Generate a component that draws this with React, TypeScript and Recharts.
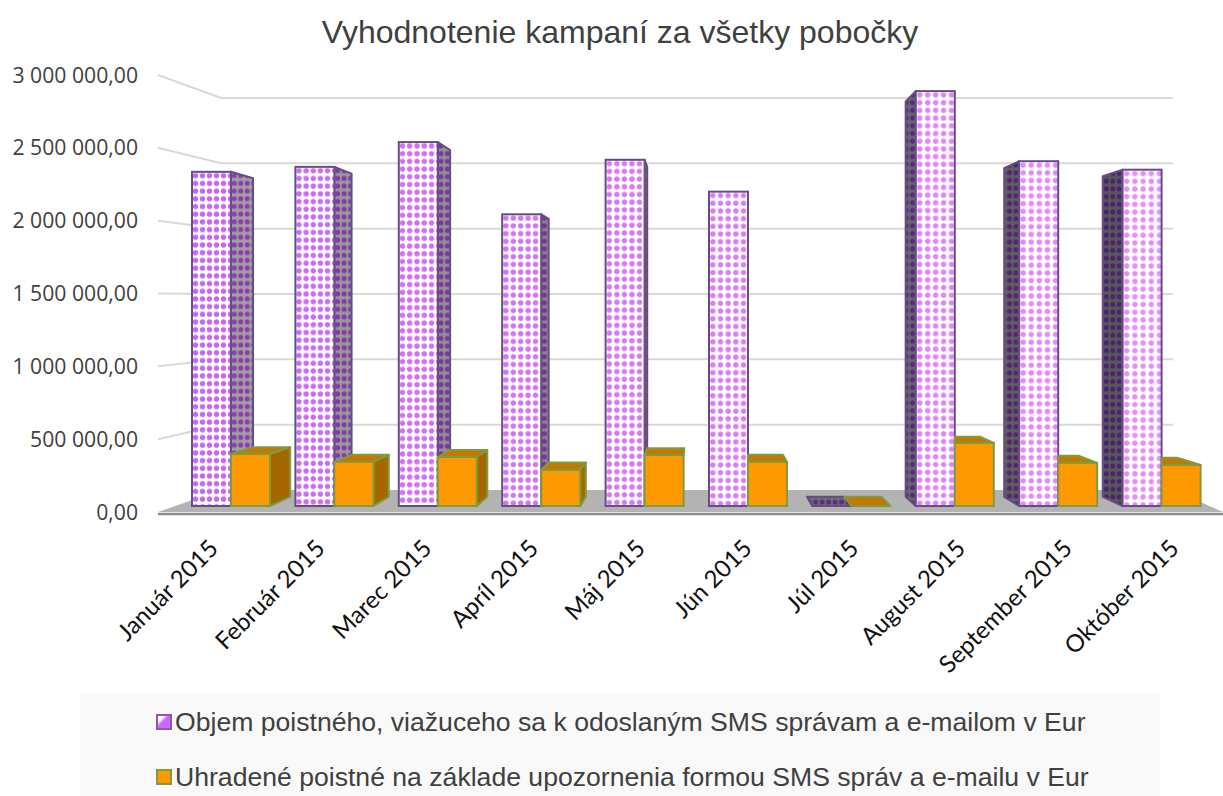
import React from 'react';
import { ComposedChart, Bar, Line, XAxis, YAxis, Legend, CartesianGrid } from 'recharts';

const months = ['Január 2015', 'Február 2015', 'Marec 2015', 'Apríl 2015', 'Máj 2015', 'Jún 2015', 'Júl 2015', 'August 2015', 'September 2015', 'Október 2015'];
const premiumSent = [2360000, 2395000, 2570000, 2060000, 2445000, 2220000, 0, 2930000, 2435000, 2375000];
const premiumPaid = [367000, 311000, 346000, 254000, 360000, 311000, 0, 445000, 304000, 290000];
const axisTicks = [0, 500000, 1000000, 1500000, 2000000, 2500000, 3000000];
const seriesNames = [
  'Objem poistného, viažuceho sa k odoslaným SMS správam a e-mailom v Eur',
  'Uhradené poistné na základe upozornenia formou SMS správ a e-mailu v Eur',
];

const data = months.map((month, i) => ({ month, sent: premiumSent[i], paid: premiumPaid[i] }));

// the 3D look: every corner is pulled towards one vanishing point
const VP_X = 700;
const VP_Y = 310;
const DEPTH = 0.047;
const backX = (x: number) => x + (VP_X - x) * DEPTH;
const backY = (y: number) => y + (VP_Y - y) * DEPTH;

const mix = (a: number[], b: number[], t: number) =>
  `rgb(${a.map((v, i) => Math.round(v + (b[i] - v) * t)).join(',')})`;

const poly = (pts: number[][]) => pts.map((p) => p.join(',')).join(' ');

const Box3D = (props: any) => {
  const { x, y, width, height, index, kind } = props;
  const l = x;
  const r = x + width;
  const t = y;
  const b = y + height;
  const isSent = kind === 'sent';
  const stroke = isSent ? '#674c85' : '#7f9a3f';
  const k = (l - 192) / 930;
  const dot = mix([199, 102, 245], [233, 138, 255], k);
  const frontId = `front-${index}`;
  const sideId = `side-${index}`;
  const sideFill = isSent ? `url(#${sideId})` : '#a56700';
  const topFill = isSent ? `url(#${sideId})` : '#c07a00';
  const rightSide = backX(r) > r + 1;
  // an orange box has the purple one on its left, which hides that corner
  const hidden = !isSent && premiumSent[index] > 0;
  const leftSide = !hidden && isSent && backX(l) < l - 1;
  const topLeft = hidden ? Math.max(backX(l), l) : backX(l);
  return (
    <g>
      {isSent && (
        <defs>
          <pattern id={frontId} patternUnits="userSpaceOnUse" x={l} y={t} width={7 + k * 1.2} height={7.7}>
            <rect width="10" height="10" fill="#ffffff" />
            <circle cx={3.5 + k * 0.6} cy={3.8} r={2.7} fill={dot} />
          </pattern>
          <pattern id={sideId} patternUnits="userSpaceOnUse" x={l} y={t} width={6.5} height={7.7}>
            <rect width="10" height="10" fill={mix([160, 160, 160], [88, 88, 88], k)} />
            <circle cx={3.2} cy={3.8} r={2.5} fill={mix([138, 60, 176], [76, 34, 110], k)} />
          </pattern>
        </defs>
      )}
      {backY(t) < t && (
        <polygon
          points={poly([[l, t], [r, t], [backX(r), backY(t)], [topLeft, backY(t)]])}
          fill={topFill}
          stroke={stroke}
          strokeWidth={2}
          strokeLinejoin="round"
        />
      )}
      {rightSide && (
        <polygon
          points={poly([[r, t], [backX(r), backY(t)], [backX(r), backY(b)], [r, b]])}
          fill={sideFill}
          stroke={stroke}
          strokeWidth={2}
          strokeLinejoin="round"
        />
      )}
      {leftSide && (
        <polygon
          points={poly([[l, t], [backX(l), backY(t)], [backX(l), backY(b)], [l, b]])}
          fill={sideFill}
          stroke={stroke}
          strokeWidth={2}
          strokeLinejoin="round"
        />
      )}
      <rect
        x={l}
        y={t}
        width={width}
        height={height}
        fill={isSent ? `url(#${frontId})` : '#ff9900'}
        stroke={stroke}
        strokeWidth={2}
      />
    </g>
  );
};

// left wall, back wall and floor are the horizontal grid, so they stay under the bars
const WALL_X = 221;
const WALL_END = 1173;
const FRONT_X = 158;
const wallY = (y: number) => 490 - (512 - y) * (392 / 437);

const WallLine = (props: any) => {
  const y = props.y1;
  const by = wallY(y);
  if (y > 500) {
    return (
      <g>
        <polygon points={poly([[FRONT_X, y], [WALL_X, by], [WALL_END, by], [1223, y]])} fill="#b3b3b3" />
        <line x1={FRONT_X} y1={y + 2} x2={1223} y2={y + 2} stroke="#8c8c8c" strokeWidth={2.5} />
      </g>
    );
  }
  return <polyline points={poly([[FRONT_X, y], [WALL_X, by], [WALL_END, by]])} fill="none" stroke="#d9d9d9" strokeWidth={2} />;
};

const ValueTick = (props: any) => {
  const { y, payload } = props;
  const label = payload.value.toLocaleString('en-US', { minimumFractionDigits: 2 }).replace(/,/g, ' ').replace('.', ',');
  return (
    <text x={138} y={y} dy={7.5} textAnchor="end" fontFamily="Open Sans" fontSize={21.2} fill="#404040">
      {label}
    </text>
  );
};

// the labels fan out a little, same as the floor in the perspective
const MonthTick = (props: any) => {
  const { x, y, payload } = props;
  const endX = x + (x - 572) * 0.0322;
  const endY = y + 30;
  return (
    <text
      x={endX}
      y={endY}
      textAnchor="end"
      transform={`rotate(-45 ${endX} ${endY})`}
      fontFamily="Lato"
      fontSize={24}
      fill="#111111"
    >
      {payload.value}
    </text>
  );
};

const LegendBox = (props: any) => (
  <div
    style={{
      width: 1080,
      height: 103,
      background: '#f9f9f9',
      fontFamily: 'Liberation Sans',
      fontSize: 26.6,
      lineHeight: '30px',
      color: '#404040',
      paddingTop: 14,
      boxSizing: 'border-box',
    }}
  >
    {props.payload.map((entry: any, i: number) => (
      <div
        key={entry.value}
        style={{ display: 'flex', alignItems: 'center', height: 30, marginBottom: i === 0 ? 25 : 0, marginLeft: 76, whiteSpace: 'nowrap' }}
      >
        <span
          style={{
            width: 12,
            height: 12,
            marginRight: 3,
            boxSizing: 'content-box',
            border: `2px solid ${i === 0 ? '#8a5cb0' : '#7f9a3f'}`,
            background: i === 0 ? 'linear-gradient(135deg, #ffffff 25%, #cc66ff 45%)' : '#ff9900',
          }}
        />
        {entry.value}
      </div>
    ))}
  </div>
);

export default function App() {
  return (
    <div style={{ position: 'absolute', left: 0, top: 0, width: 1223, height: 796, background: '#ffffff', overflow: 'hidden' }}>
      <div
        style={{
          position: 'absolute',
          left: 0,
          width: 1240,
          top: 14,
          textAlign: 'center',
          fontFamily: 'Liberation Sans',
          fontSize: 32,
          color: '#404040',
        }}
      >
        Vyhodnotenie kampaní za všetky pobočky
      </div>
      <ComposedChart
        width={1223}
        height={796}
        data={data}
        barSize={39}
        barGap={0}
        margin={{ top: 75, right: 10, bottom: 0, left: 0 }}
      >
        <CartesianGrid yAxisId="labels" vertical={false} horizontal={<WallLine />} syncWithTicks />
        <XAxis
          dataKey="month"
          height={284}
          axisLine={false}
          tickLine={false}
          interval={0}
          tick={<MonthTick />}
        />
        <YAxis
          yAxisId="labels"
          type="number"
          domain={[0, 3000000]}
          ticks={axisTicks}
          width={179}
          axisLine={false}
          tickLine={false}
          tick={<ValueTick />}
        />
        {/* bars stand closer than the walls, so they get their own hidden scale */}
        <YAxis yAxisId="bars" type="number" domain={[-42373, 3043785]} hide />
        <Legend
          layout="horizontal"
          align="center"
          verticalAlign="middle"
          wrapperStyle={{ left: 80, top: 693, width: 1080, height: 103 }}
          content={<LegendBox />}
        />
        {/* keeps the labelled axis alive, draws nothing */}
        <Line
          yAxisId="labels"
          dataKey="paid"
          stroke="none"
          dot={false}
          activeDot={false}
          legendType="none"
          isAnimationActive={false}
        />
        <Bar
          yAxisId="bars"
          dataKey="sent"
          name={seriesNames[0]}
          fill="#cc66ff"
          isAnimationActive={false}
          shape={(p: any) => <Box3D {...p} kind="sent" />}
        />
        <Bar
          yAxisId="bars"
          dataKey="paid"
          name={seriesNames[1]}
          fill="#ff9900"
          isAnimationActive={false}
          shape={(p: any) => <Box3D {...p} kind="paid" />}
        />
      </ComposedChart>
    </div>
  );
}
